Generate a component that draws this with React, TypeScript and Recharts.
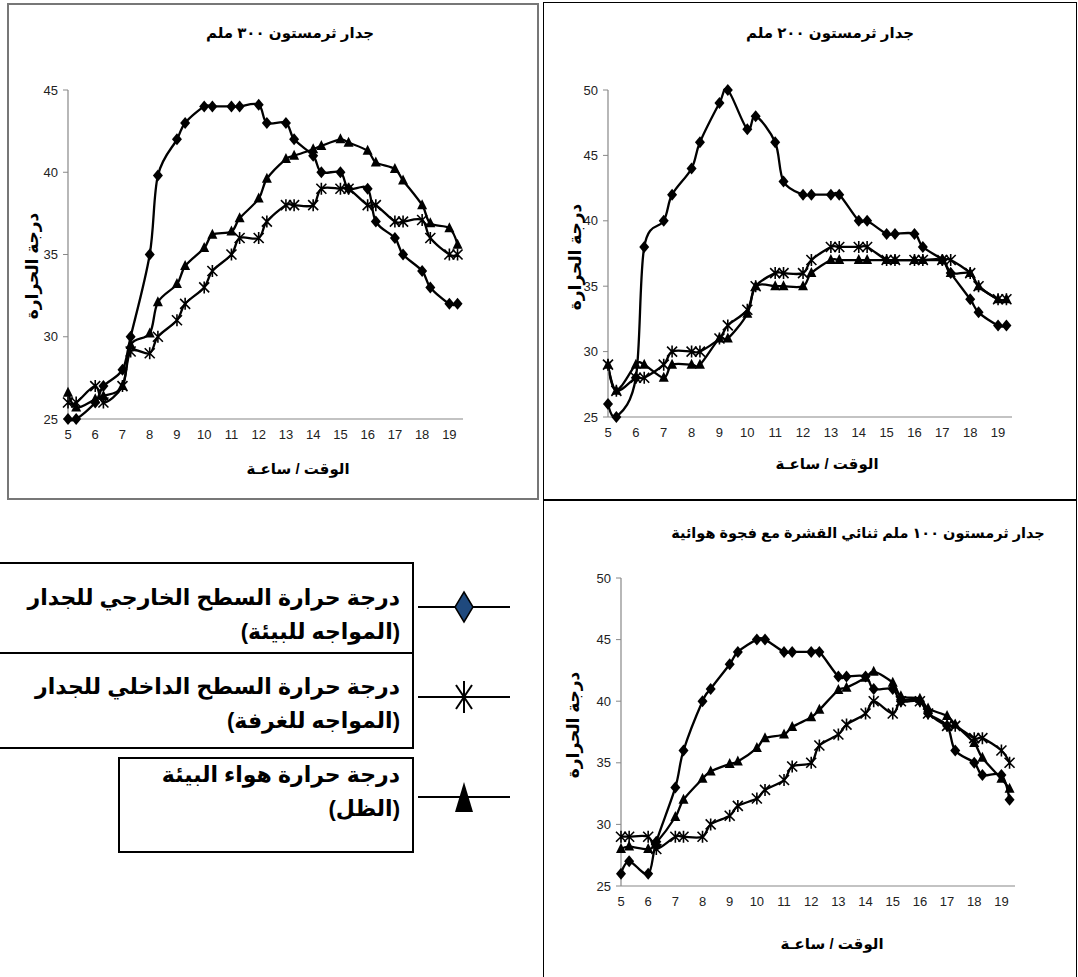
import { LineChart, Line, XAxis, YAxis } from "recharts";

// readings every half hour: 5.3 means 5:30
const HOURS = [5, 5.3, 6, 6.3, 7, 7.3, 8, 8.3, 9, 9.3, 10, 10.3, 11, 11.3, 12, 12.3, 13, 13.3, 14, 14.3, 15, 15.3, 16, 16.3, 17, 17.3, 18, 18.3, 19, 19.3];
const HOUR_TICKS = [5, 6, 7, 8, 9, 10, 11, 12, 13, 14, 15, 16, 17, 18, 19];
const TEMP_TICKS_45 = [25, 30, 35, 40, 45];
const TEMP_TICKS_50 = [25, 30, 35, 40, 45, 50];

// 300 mm wall
const OUTER_300 = [25, 25, 26, 27, 28, 30, 35, 39.8, 42, 43, 44, 44, 44, 44, 44.1, 43, 43, 42, 41, 40, 40, 39, 39, 37, 36, 35, 34, 33, 32, 32];
const INNER_300 = [26, 26, 27, 26, 27, 29.1, 29, 30, 31, 32, 33, 34, 35, 36, 36, 37, 38, 38, 38, 39, 39, 39, 38, 38, 37, 37, 37.1, 36, 35, 35];
const AIR_300 = [26.6, 25.7, 26.2, 26.4, 27, 29.5, 30.2, 32.1, 33.2, 34.3, 35.4, 36.2, 36.4, 37.2, 38.4, 39.6, 40.8, 41, 41.4, 41.6, 42, 41.8, 41.3, 40.6, 40.2, 39.5, 38, 36.9, 36.6, 35.6];

// 200 mm wall
const OUTER_200 = [26, 25, 28, 38, 40, 42, 44, 46, 49, 50, 47, 48, 46, 43, 42, 42, 42, 42, 40, 40, 39, 39, 39, 38, 37, 36, 34, 33, 32, 32];
const INNER_200 = [29, 27, 28, 28, 29, 30, 30, 30, 31, 32, 33.2, 35, 36, 36, 36, 37, 38, 38, 38, 38, 37, 37, 37, 37, 37, 37, 36, 35, 34, 34];
const AIR_200 = [29, 27, 29, 29, 28, 29, 29, 29, 31, 31, 32.9, 35, 35, 35, 35, 36, 37, 37, 37, 37, 37, 37, 37, 37, 37, 36, 36, 35, 34, 34];

// 100 mm double skin with air gap
const OUTER_100 = [26, 27, 26, 28.6, 33, 36, 40, 41, 43, 44, 45, 45, 44, 44, 44, 44, 42, 42, 42, 41, 41, 40, 40, 39, 38, 36, 35, 34, 34, 32];
const INNER_100 = [29, 29, 29, 28, 29, 29, 29, 30, 30.7, 31.5, 32.1, 32.8, 33.6, 34.7, 35, 36.4, 37.3, 38.1, 39, 40, 39, 40, 40, 39, 38, 38, 37, 37, 36, 35];
const AIR_100 = [28, 28.2, 28, 28.5, 30.6, 32, 33.7, 34.3, 34.9, 35.1, 36.2, 37, 37.3, 37.9, 38.7, 39.3, 40.9, 41.1, 41.9, 42.4, 41.5, 40.4, 40.2, 39.4, 38.8, 38.1, 36.6, 35.4, 33.7, 32.9];

const TITLE_300 = "جدار ثرمستون ٣٠٠ ملم";
const TITLE_200 = "جدار ثرمستون ٢٠٠ ملم";
const TITLE_100 = "جدار ثرمستون ١٠٠ ملم ثنائي القشرة مع فجوة هوائية";
const Y_TITLE = "درجة الحرارة";
const X_TITLE = "الوقت / ساعـة";
const LEGEND_OUTER = ["درجة حرارة السطح الخارجي للجدار", "(المواجه للبيئة)"];
const LEGEND_INNER = ["درجة حرارة السطح الداخلي للجدار", "(المواجه للغرفة)"];
const LEGEND_AIR = ["درجة حرارة هواء البيئة", "(الظل)"];

const FONT = "'Liberation Sans', Arial, 'DejaVu Sans', sans-serif";

const rows = (outer: number[], inner: number[], air: number[]) =>
  HOURS.map((t, i) => ({ t, outer: outer[i], inner: inner[i], air: air[i] }));

// Cardinal spline through every point, like spreadsheet "smoothed line"
function smoothCurve(context: any) {
  let x0 = NaN, y0 = NaN, x1 = NaN, y1 = NaN, x2 = NaN, y2 = NaN, n = 0;
  const k = 1 / 6;
  const seg = (x: number, y: number) => {
    context.bezierCurveTo(x1 + k * (x2 - x0), y1 + k * (y2 - y0), x2 + k * (x1 - x), y2 + k * (y1 - y), x2, y2);
  };
  return {
    areaStart() {},
    areaEnd() {},
    lineStart() {
      x0 = x1 = x2 = y0 = y1 = y2 = NaN;
      n = 0;
    },
    lineEnd() {
      if (n === 2) context.lineTo(x2, y2);
      else if (n === 3) seg(x1, y1);
    },
    point(x: number, y: number) {
      x = +x;
      y = +y;
      if (n === 0) {
        n = 1;
        context.moveTo(x, y);
      } else if (n === 1) {
        n = 2;
        x1 = x;
        y1 = y;
      } else {
        n = 3;
        seg(x, y);
      }
      x0 = x1; x1 = x2; x2 = x;
      y0 = y1; y1 = y2; y2 = y;
    },
  };
}

const DiamondDot = (p: any) => {
  const { cx, cy, index } = p;
  if (cx == null || cy == null) return <g key={`d${index}`} />;
  return <path key={`d${index}`} d={`M${cx},${cy - 6}L${cx + 5},${cy}L${cx},${cy + 6}L${cx - 5},${cy}Z`} fill="#000" />;
};

const StarDot = (p: any) => {
  const { cx, cy, index } = p;
  if (cx == null || cy == null) return <g key={`s${index}`} />;
  return (
    <path
      key={`s${index}`}
      d={`M${cx - 5},${cy - 5}L${cx + 5},${cy + 5}M${cx + 5},${cy - 5}L${cx - 5},${cy + 5}M${cx},${cy - 6}L${cx},${cy + 6}`}
      stroke="#000"
      strokeWidth={1.6}
      fill="none"
    />
  );
};

const TriangleDot = (p: any) => {
  const { cx, cy, index } = p;
  if (cx == null || cy == null) return <g key={`t${index}`} />;
  return <path key={`t${index}`} d={`M${cx},${cy - 6}L${cx + 5},${cy + 4}L${cx - 5},${cy + 4}Z`} fill="#000" />;
};

type Panel = {
  left: number;
  top: number;
  width: number;
  height: number;
  margin: { top: number; right: number; bottom: number; left: number };
  yDomain: [number, number];
  yTicks: number[];
  data: { t: number; outer: number; inner: number; air: number }[];
};

function TempChart({ left, top, width, height, margin, yDomain, yTicks, data }: Panel) {
  const tick = { fontSize: 13, fill: "#222", fontFamily: FONT };
  return (
    <div style={{ position: "absolute", left, top, width, height }}>
      <LineChart width={width} height={height} data={data} margin={margin}>
        <XAxis
          dataKey="t"
          type="number"
          domain={[5, 19.5]}
          ticks={HOUR_TICKS}
          height={30}
          tick={tick}
          tickLine={false}
          tickSize={6}
          tickMargin={5}
          axisLine={{ stroke: "#888", strokeWidth: 1.2 }}
        />
        <YAxis
          type="number"
          domain={yDomain}
          ticks={yTicks}
          width={40}
          tick={tick}
          tickSize={5}
          tickMargin={5}
          tickLine={{ stroke: "#888" }}
          axisLine={{ stroke: "#888", strokeWidth: 1.2 }}
        />
        <Line dataKey="air" type={smoothCurve as any} stroke="#000" strokeWidth={2.3} dot={TriangleDot} isAnimationActive={false} />
        <Line dataKey="inner" type={smoothCurve as any} stroke="#000" strokeWidth={2.3} dot={StarDot} isAnimationActive={false} />
        <Line dataKey="outer" type={smoothCurve as any} stroke="#000" strokeWidth={2.3} dot={DiamondDot} isAnimationActive={false} />
      </LineChart>
    </div>
  );
}

function Caption({ x, y, text, size = 15, rotate = false }: { x: number; y: number; text: string; size?: number; rotate?: boolean }) {
  return (
    <div
      dir="rtl"
      style={{
        position: "absolute",
        left: x,
        top: y,
        transform: `translate(-50%, -50%)${rotate ? " rotate(-90deg)" : ""}`,
        whiteSpace: "nowrap",
        fontFamily: FONT,
        fontWeight: "bold",
        fontSize: size,
        color: "#000",
        lineHeight: 1,
      }}
    >
      {text}
    </div>
  );
}

function LegendEntry({ top, boxLeft, boxTop, boxBottom, lines, symbolY, symbol }: {
  top: number;
  boxLeft: number;
  boxTop: number;
  boxBottom: number;
  lines: string[];
  symbolY: number;
  symbol: "diamond" | "star" | "triangle";
}) {
  const cx = 48;
  return (
    <>
      <div
        style={{
          position: "absolute",
          left: boxLeft,
          top: boxTop,
          width: 414 - boxLeft,
          height: boxBottom - boxTop,
          border: "2px solid #000",
          boxSizing: "border-box",
        }}
      />
      <div
        dir="rtl"
        style={{
          position: "absolute",
          left: 0,
          top,
          width: 400,
          textAlign: "right",
          fontFamily: FONT,
          fontWeight: "bold",
          fontSize: 22,
          lineHeight: "34px",
          color: "#000",
        }}
      >
        {lines.map((l) => (
          <div key={l}>{l}</div>
        ))}
      </div>
      <svg style={{ position: "absolute", left: 416, top: symbolY - 20 }} width={96} height={40}>
        <line x1={2} y1={20} x2={94} y2={20} stroke="#000" strokeWidth={2} />
        {symbol === "diamond" && <path d={`M${cx},5L${cx + 9},20L${cx},35L${cx - 9},20Z`} fill="#1f497d" stroke="#000" strokeWidth={1.5} />}
        {symbol === "star" && (
          <path d={`M${cx - 8},8L${cx + 8},32M${cx + 8},8L${cx - 8},32M${cx},4L${cx},36`} stroke="#000" strokeWidth={2} />
        )}
        {symbol === "triangle" && <path d={`M${cx},5L${cx + 9},35L${cx - 9},35Z`} fill="#000" />}
      </svg>
    </>
  );
}

export default function App() {
  return (
    <div style={{ position: "absolute", left: 0, top: 0, width: 1078, height: 977, background: "#fff", overflow: "hidden" }}>
      {/* panel frames */}
      <div style={{ position: "absolute", left: 7, top: 3, width: 532, height: 497, border: "2px solid #777", boxSizing: "border-box" }} />
      <div style={{ position: "absolute", left: 543, top: 2, width: 534, height: 499, border: "1.5px solid #000", boxSizing: "border-box" }} />
      <div style={{ position: "absolute", left: 543, top: 499, width: 534, height: 500, border: "1.5px solid #000", boxSizing: "border-box" }} />

      <TempChart
        left={8}
        top={4}
        width={530}
        height={495}
        margin={{ top: 86, right: 75, bottom: 50, left: 20 }}
        yDomain={[25, 45]}
        yTicks={TEMP_TICKS_45}
        data={rows(OUTER_300, INNER_300, AIR_300)}
      />
      <TempChart
        left={544}
        top={3}
        width={533}
        height={497}
        margin={{ top: 87, right: 65, bottom: 53, left: 24 }}
        yDomain={[25, 50]}
        yTicks={TEMP_TICKS_50}
        data={rows(OUTER_200, INNER_200, AIR_200)}
      />
      <TempChart
        left={544}
        top={500}
        width={534}
        height={480}
        margin={{ top: 78, right: 63, bottom: 64, left: 37 }}
        yDomain={[25, 50]}
        yTicks={TEMP_TICKS_50}
        data={rows(OUTER_100, INNER_100, AIR_100)}
      />

      <Caption x={290} y={32} text={TITLE_300} />
      <Caption x={830} y={32} text={TITLE_200} />
      <Caption x={858} y={533} text={TITLE_100} size={14.5} />

      <Caption x={32} y={266} text={Y_TITLE} size={17} rotate />
      <Caption x={575} y={257} text={Y_TITLE} size={17} rotate />
      <Caption x={573} y={725} text={Y_TITLE} size={17} rotate />

      <Caption x={298} y={468} text={X_TITLE} />
      <Caption x={827} y={463} text={X_TITLE} />
      <Caption x={832} y={943} text={X_TITLE} />

      <LegendEntry top={581} boxLeft={-4} boxTop={562} boxBottom={654} lines={LEGEND_OUTER} symbolY={607} symbol="diamond" />
      <LegendEntry top={670} boxLeft={-4} boxTop={652} boxBottom={749} lines={LEGEND_INNER} symbolY={697} symbol="star" />
      <LegendEntry top={758} boxLeft={118} boxTop={757} boxBottom={853} lines={LEGEND_AIR} symbolY={797} symbol="triangle" />
    </div>
  );
}
